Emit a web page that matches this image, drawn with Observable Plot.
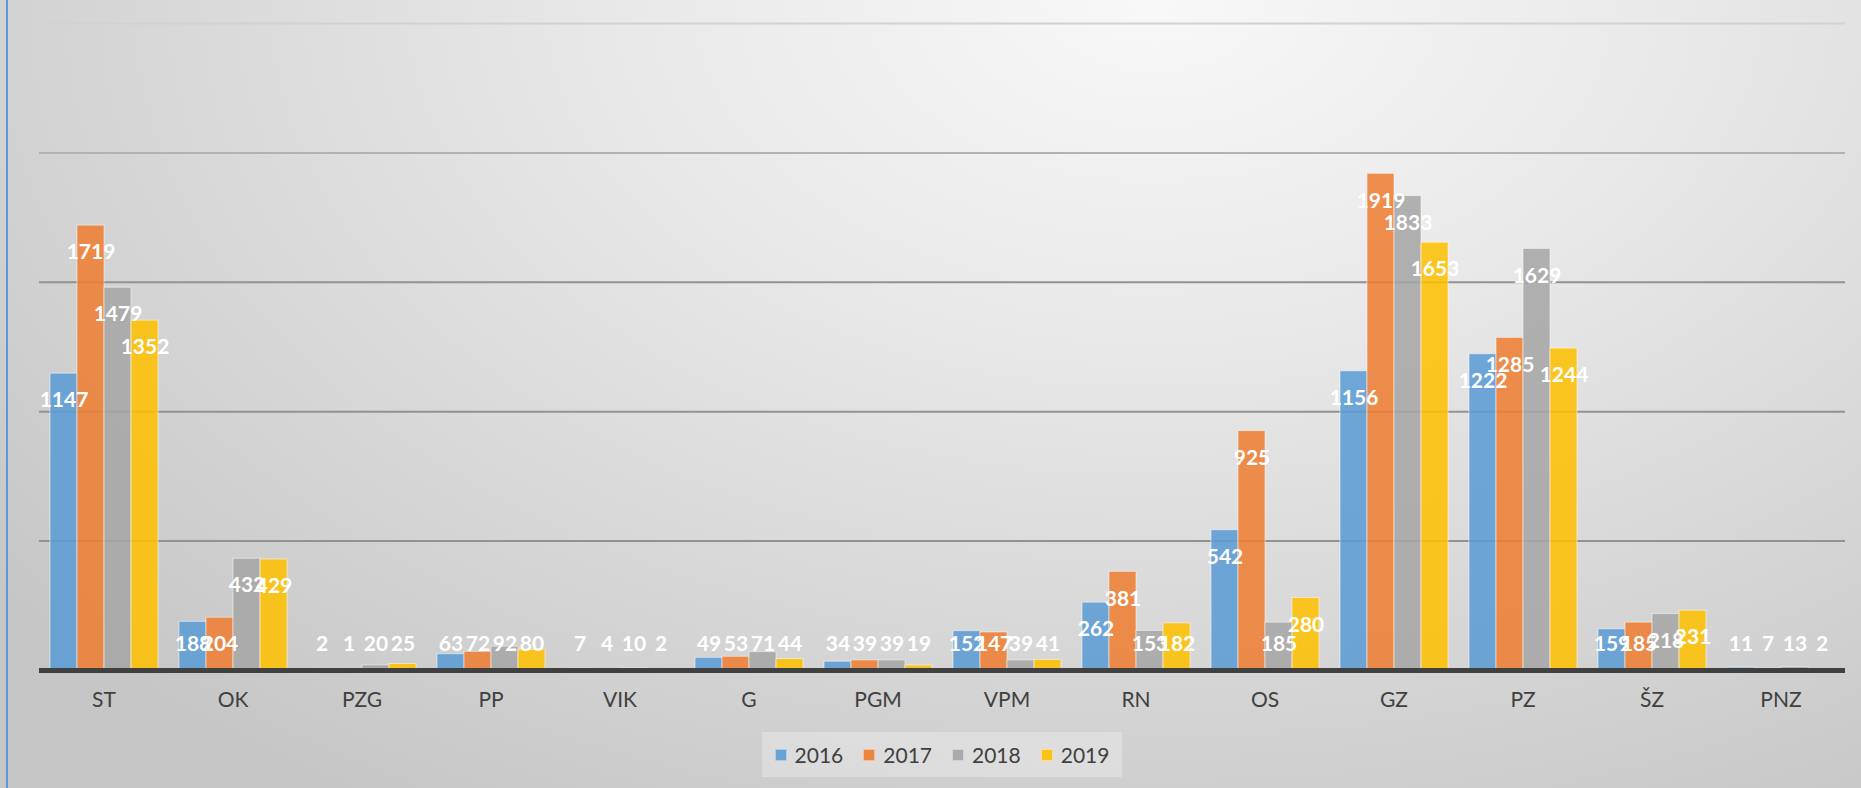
<!DOCTYPE html>
<html>
<head>
<meta charset="utf-8">
<script src="https://cdn.jsdelivr.net/npm/d3@7"></script>
<script src="https://cdn.jsdelivr.net/npm/@observablehq/plot@0.6"></script>
<style>
  html, body { margin: 0; padding: 0; }
  #wrap {
    position: relative; width: 1861px; height: 788px; overflow: hidden;
    background: radial-gradient(ellipse 80% 120% at 62% 0%, #f8f8f8 0%, #e9e9e9 35%, #d6d6d6 70%, #c6c6c6 100%);
    font-family: Lato, "Open Sans", sans-serif;
  }
  #border { position: absolute; left: 6px; top: 0; width: 2px; height: 788px; background: #5b9bd5; }
  #chart { position: absolute; left: 0; top: 0; }
  #legend {
    position: absolute; left: 762px; top: 732px; width: 360px; height: 45px;
    background: rgba(255,255,255,0.28);
    display: flex; align-items: center; justify-content: center;
    font-size: 21px; color: #404040;
  }
  #legend .item { display: flex; align-items: center; margin: 0 10px; }
  #legend .sw { width: 12px; height: 12px; margin-right: 8px; box-sizing: border-box; border: 1px solid rgba(255,255,255,0.5); }
</style>
</head>
<body>
<div id="wrap">
  <div id="border"></div>
  <div id="chart"></div>
  <div id="legend"></div>
</div>
<script>
const categories = ["ST","OK","PZG","PP","VIK","G","PGM","VPM","RN","OS","GZ","PZ","ŠZ","PNZ"];
const years = ["2016","2017","2018","2019"];
const v2016 = [1147,188,2,63,7,49,34,152,262,542,1156,1222,159,11];
const v2017 = [1719,204,1,72,4,53,39,147,381,925,1919,1285,185,7];
const v2018 = [1479,432,20,92,10,71,39,39,153,185,1833,1629,218,13];
const v2019 = [1352,429,25,80,2,44,19,41,182,280,1653,1244,231,2];
const gridTicks = [500,1000,1500,2000,2500];
const colors = ["#5b9bd5","#ed7d31","#a5a5a5","#ffc000"];

const series = [v2016, v2017, v2018, v2019];
const rows = [];
categories.forEach((c, i) => {
  years.forEach((y, j) => rows.push({cat: c, year: y, value: series[j][i]}));
});

const chart = Plot.plot({
  width: 1861,
  height: 720,
  marginTop: 23,
  marginBottom: 50,
  marginLeft: 37,
  marginRight: 14,
  style: {background: "transparent", fontFamily: "Lato, 'Open Sans', sans-serif", fontSize: "21px", color: "#404040", overflow: "visible"},
  facet: {data: rows, x: "cat"},
  fx: {domain: categories, paddingInner: 0, paddingOuter: 0, axis: "bottom", tickSize: 0, tickPadding: 22, label: null},
  x: {domain: years, paddingInner: 0, paddingOuter: 0.31, axis: null},
  y: {domain: [0, 2500], axis: null},
  color: {domain: years, range: colors},
  marks: [
    Plot.ruleY(gridTicks, {stroke: d => d >= 2500 ? "#d2d2d2" : d >= 2000 ? "#b2b2b2" : "#929292", strokeWidth: 2}),
    Plot.barY(rows, {x: "year", y: "value", fill: "year", fillOpacity: 0.86, stroke: "white", strokeOpacity: 0.5, strokeWidth: 1}),
    Plot.ruleY([0], {stroke: "#404040", strokeWidth: 5}),
    Plot.text(rows, {x: "year", y: d => Math.max(d.value, 205), dy: 27, text: d => String(d.value), fill: "white", fontSize: 21, fontWeight: "bold"})
  ]
});
document.getElementById("chart").appendChild(chart);

const legend = document.getElementById("legend");
years.forEach((y, j) => {
  const item = document.createElement("div");
  item.className = "item";
  const sw = document.createElement("div");
  sw.className = "sw";
  sw.style.background = colors[j];
  sw.style.opacity = 0.9;
  const t = document.createElement("span");
  t.textContent = y;
  item.appendChild(sw);
  item.appendChild(t);
  legend.appendChild(item);
});
</script>
</body>
</html>
